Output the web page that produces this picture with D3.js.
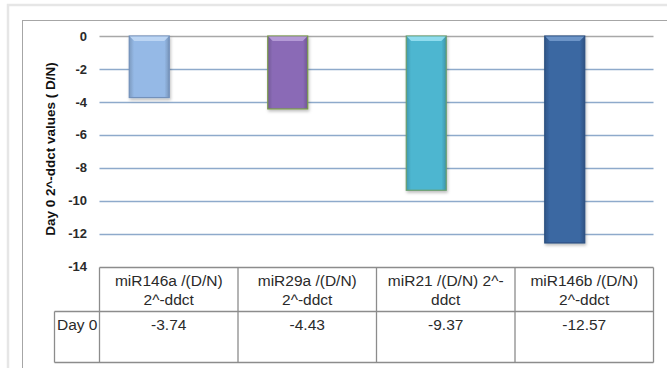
<!DOCTYPE html>
<html>
<head>
<meta charset="utf-8">
<script src="https://cdn.jsdelivr.net/npm/d3@7"></script>
<style>
  html, body { margin: 0; padding: 0; background: #fff; }
  svg { display: block; }
  text { font-family: "Liberation Sans", Arial, sans-serif; }
</style>
</head>
<body>
<svg id="chart" width="667" height="368"></svg>
<script>
// Day 0 fold-change values per microRNA
const categories = ["miR146a", "miR29a", "miR21", "miR146b"];
const headerLines = [
  ["miR146a /(D/N)", "2^-ddct"],
  ["miR29a /(D/N)", "2^-ddct"],
  ["miR21 /(D/N) 2^-", "ddct"],
  ["miR146b /(D/N)", "2^-ddct"]
];
const values = [-3.74, -4.43, -9.37, -12.57];
const valueLabels = ["-3.74", "-4.43", "-9.37", "-12.57"];
const yTicks = [0, -2, -4, -6, -8, -10, -12, -14];
const rowLabel = "Day 0";
const yTitle = "Day 0 2^-ddct values ( D/N)";

const fills = ["#95b9e6", "#8a6bb6", "#4db6d0", "#3a67a2"];
const strokes = ["#7391bb", "#7a9a4a", "#6a9e6e", "#2c4f80"];
const tops = ["#bcd5f3", "#b49ad6", "#8fdcee", "#6d95c8"];

const svg = d3.select("#chart");
const defs = svg.append("defs");

// outer frame and chart frame
svg.append("rect").attr("x", 8).attr("y", 5).attr("width", 700).attr("height", 400)
  .attr("fill", "none").attr("stroke", "#e6e6e6").attr("stroke-width", 2.5);
svg.append("rect").attr("x", 22.5).attr("y", 20.5).attr("width", 700).attr("height", 400)
  .attr("fill", "#fff").attr("stroke", "#a6a6a6").attr("stroke-width", 1);

const plotLeft = 99.5, plotRight = 653.5, plotTop = 36, plotBottom = 266.5;

const y = d3.scaleLinear().domain([-14, 0]).range([plotBottom, plotTop]);
const col = d3.scaleBand().domain(categories).range([plotLeft, plotRight]);
const barX = d3.scaleBand().domain(categories).range([plotLeft - 19.5, plotRight - 19.5]);
const barW = 40;

// gridlines
svg.append("g").selectAll("line").data(yTicks.filter(t => t > -14)).join("line")
  .attr("x1", plotLeft).attr("x2", plotRight)
  .attr("y1", d => Math.round(y(d)) + 0.5).attr("y2", d => Math.round(y(d)) + 0.5)
  .attr("stroke", d => d === 0 ? "#a8a8a8" : "#8eaacb").attr("stroke-width", 1.6);

// y axis labels (plain hyphen for negatives)
const yAxis = d3.axisLeft(y).tickValues(yTicks).tickSize(0).tickPadding(0).tickFormat(d => String(d));
const gy = svg.append("g").attr("transform", `translate(87,0)`).call(yAxis);
gy.select(".domain").remove();
gy.selectAll("text").attr("font-size", 13).attr("font-weight", "bold").attr("fill", "#2a2a2a")
  .attr("font-family", "'Liberation Sans', Arial, sans-serif");

// y title
svg.append("text")
  .attr("transform", `translate(50,149) rotate(-90)`)
  .attr("text-anchor", "middle").attr("dominant-baseline", "central")
  .attr("font-size", 13.5).attr("font-weight", "bold").attr("fill", "#111")
  .text(yTitle);

// bar shading
categories.forEach((c, i) => {
  const g = defs.append("linearGradient").attr("id", "grad" + i).attr("x1", 0).attr("x2", 1).attr("y1", 0).attr("y2", 0);
  const base = d3.color(fills[i]);
  g.append("stop").attr("offset", 0).attr("stop-color", base.darker(0.5));
  g.append("stop").attr("offset", 0.12).attr("stop-color", base);
  g.append("stop").attr("offset", 0.88).attr("stop-color", base);
  g.append("stop").attr("offset", 1).attr("stop-color", base.darker(0.6));
});
const shadow = defs.append("filter").attr("id", "shadow").attr("x", "-20%").attr("y", "-10%").attr("width", "140%").attr("height", "130%");
shadow.append("feDropShadow").attr("dx", 1).attr("dy", 2).attr("stdDeviation", 1.5).attr("flood-color", "#000").attr("flood-opacity", 0.25);

const bars = svg.append("g").selectAll("g").data(values).join("g");
bars.append("rect")
  .attr("x", (d, i) => barX(categories[i]) + barX.bandwidth() / 2 - barW / 2)
  .attr("y", y(0))
  .attr("width", barW)
  .attr("height", d => y(d) - y(0))
  .attr("fill", (d, i) => `url(#grad${i})`)
  .attr("stroke", (d, i) => strokes[i]).attr("stroke-width", 1.2)
  .attr("filter", "url(#shadow)");
// top bevel
bars.append("path")
  .attr("d", (d, i) => {
    const x0 = barX(categories[i]) + barX.bandwidth() / 2 - barW / 2;
    const t = y(0);
    return `M${x0 + 0.6},${t + 0.6} L${x0 + barW - 0.6},${t + 0.6} L${x0 + barW - 5},${t + 5} L${x0 + 5},${t + 5} Z`;
  })
  .attr("fill", (d, i) => tops[i]);

// data table
const tbl = svg.append("g");
const tableTop = 267.5, headBottom = 311.5, tableBottom = 362.5, labelLeft = 54.5;
const lineColor = "#8c8c8c";
tbl.append("line").attr("x1", plotLeft).attr("x2", plotRight).attr("y1", tableTop).attr("y2", tableTop).attr("stroke", lineColor).attr("stroke-width", 1.3);
tbl.append("line").attr("x1", labelLeft).attr("x2", plotRight).attr("y1", headBottom).attr("y2", headBottom).attr("stroke", lineColor).attr("stroke-width", 1.3);
tbl.append("line").attr("x1", labelLeft).attr("x2", plotRight).attr("y1", tableBottom).attr("y2", tableBottom).attr("stroke", lineColor).attr("stroke-width", 1.3);
tbl.append("line").attr("x1", labelLeft).attr("x2", labelLeft).attr("y1", headBottom).attr("y2", tableBottom).attr("stroke", lineColor).attr("stroke-width", 1.3);
const colEdges = categories.map(c => col(c)).concat([plotRight]);
tbl.selectAll(".vline").data(colEdges).join("line").attr("class", "vline")
  .attr("x1", d => d).attr("x2", d => d).attr("y1", tableTop).attr("y2", tableBottom)
  .attr("stroke", lineColor).attr("stroke-width", 1.3);

categories.forEach((c, i) => {
  const cx = col(c) + col.bandwidth() / 2;
  headerLines[i].forEach((ln, j) => {
    tbl.append("text").attr("x", cx).attr("y", 285.5 + j * 19.5)
      .attr("text-anchor", "middle").attr("font-size", 15.5).attr("fill", "#2a2a2a").text(ln);
  });
  tbl.append("text").attr("x", cx).attr("y", 329.5)
    .attr("text-anchor", "middle").attr("font-size", 15.5).attr("fill", "#2a2a2a").text(valueLabels[i]);
});
tbl.append("text").attr("x", 57).attr("y", 329.5).attr("font-size", 15.5).attr("fill", "#2a2a2a").text(rowLabel);
</script>
</body>
</html>
